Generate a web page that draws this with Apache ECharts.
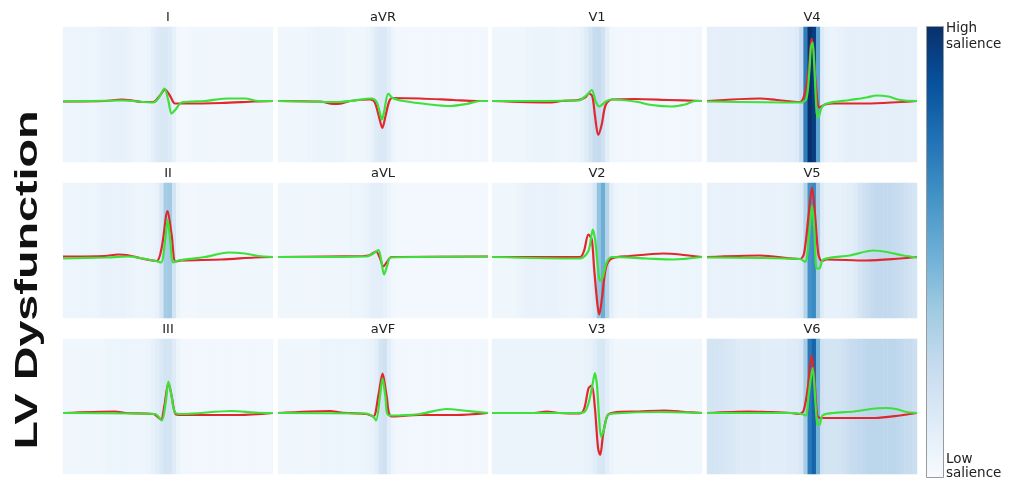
<!DOCTYPE html>
<html><head><meta charset="utf-8">
<script src="https://cdn.jsdelivr.net/npm/echarts@6/dist/echarts.min.js"></script>
<style>html,body{margin:0;padding:0;background:#fff}#c{width:1009px;height:484px}</style>
</head><body><div id="c"></div>
<script>
// ---------- data ----------
const leads = ['I','aVR','V1','V4','II','aVL','V2','V5','III','aVF','V3','V6'];
const figureTitle = 'LV Dysfunction';
const scaleHigh = 'High\nsalience';
const scaleLow = 'Low\nsalience';

// saliency (0-100), 50 time bins across each panel
const sal_I   = [5,5,5,5,5,5,5,5,6,7, 7,8,8,8,8,7,6,5,5,5, 6,9,13,15,15,13,8,3,2,2, 3,4,4,4,4,4,4,4,4,4, 4,4,4,4,4,4,4,4,4,4];
const sal_aVR = [4,4,4,4,4,4,4,5,5,6, 6,6,6,6,5,5,4,4,4,4, 4,5,8,12,14,14,10,5,3,3, 3,3,3,3,3,3,3,3,3,3, 3,3,3,3,3,3,3,3,3,3];
const sal_V1  = [4,4,4,4,4,4,4,4,5,5, 6,6,6,6,6,5,5,5,5,6, 6,8,12,18,24,25,20,10,4,3, 3,3,3,3,3,3,3,3,3,3, 3,3,3,3,3,3,3,3,3,3];
const sal_V4  = [9,9,9,9,9,9,9,9,9,9, 9,9,9,9,9,9,9,10,10,11, 11,13,25,70,100,95,55,12,7,6, 6,7,8,9,9,9,9,9,9,9, 9,9,9,9,9,9,9,9,9,9];
const sal_II  = [5,5,5,5,5,5,5,5,6,7, 7,7,7,7,7,6,6,5,5,5, 5,6,8,16,35,37,18,6,3,3, 3,3,4,4,4,4,4,4,4,4, 4,4,4,4,4,4,4,4,4,4];
const sal_aVL = [4,4,4,4,4,4,4,4,4,4, 4,4,4,4,4,4,4,5,5,5, 6,7,9,10,10,8,5,3,2,2, 2,2,2,2,2,2,2,2,2,2, 2,2,2,2,2,2,2,2,2,2];
const sal_V2  = [4,4,4,4,4,4,5,6,7,7, 7,7,7,7,7,7,6,6,5,5, 5,6,7,9,16,40,50,30,10,5, 4,4,4,4,4,5,5,5,5,5, 5,5,5,5,5,5,5,5,5,5];
const sal_V5  = [7,7,7,7,7,7,7,7,7,7, 7,7,7,7,7,7,7,7,7,8, 8,9,12,30,62,65,35,12,8,8, 8,8,9,10,11,13,17,21,23,25, 26,26,26,26,25,24,23,21,19,17];
const sal_III = [4,4,4,4,4,4,4,4,4,4, 5,5,5,5,5,5,5,5,5,5, 6,8,11,15,18,18,12,6,3,3, 3,3,3,3,3,3,3,3,3,3, 3,3,3,3,3,3,3,3,3,3];
const sal_aVF = [4,4,4,4,4,4,4,4,4,4, 5,5,5,5,5,5,5,5,5,5, 5,6,7,10,18,20,11,5,3,3, 3,3,3,3,3,3,3,3,3,3, 3,3,3,3,3,3,3,3,3,3];
const sal_V3  = [6,6,6,6,6,6,6,6,6,6, 6,6,6,6,6,6,6,6,6,6, 6,6,7,8,11,15,16,11,6,4, 4,4,4,4,4,4,4,4,4,4, 4,4,4,4,4,4,4,4,4,4];
const sal_V6  = [18,18,18,17,16,15,14,13,12,12, 12,12,12,11,11,11,11,11,11,12, 12,13,16,35,72,80,48,20,18,18, 18,19,20,22,24,25,26,27,28,28, 28,28,28,28,28,27,26,25,24,22];

// averaged beats: [time % of window, amplitude]
const red_I = [[0,-0.01],[20,0],[28,0.03],[33,0.01],[37.5,-0.02],[43,-0.02],[46,0.1],[48.6,0.23],[51,0.1],[53.3,-0.05],[56.5,-0.05],[75.5,-0.04],[91.4,-0.01],[100,0]];
const green_I = [[0,-0.01],[28,0.01],[43,-0.03],[45.7,0.07],[48.3,0.25],[50.2,0],[51.7,-0.25],[53.6,-0.17],[56.5,-0.03],[67.6,0],[78.7,0.05],[86.7,0.05],[93,0],[100,0]];
const red_aVR = [[0,0],[20,-0.01],[26.3,-0.06],[30.3,-0.05],[34.3,0],[43.8,0.03],[46,-0.02],[48,-0.3],[49.7,-0.54],[51.2,-0.3],[53,0],[54.5,0.06],[67.6,0.05],[83.5,0.02],[94.6,0],[100,0]];
const green_aVR = [[0,0],[27.9,-0.02],[34.3,0],[44.6,0.05],[47,-0.02],[48.3,-0.2],[49.5,-0.37],[50.6,-0.2],[52.5,0.15],[54.6,0.06],[59.7,0],[72.4,-0.07],[81.9,-0.1],[89.8,-0.06],[96.2,0],[100,0]];
const red_V1 = [[0,0],[28.4,-0.03],[33,0],[41,0.02],[44.3,0.07],[46.2,0.15],[47.8,0.09],[49,-0.28],[50.6,-0.68],[52.2,-0.48],[54.1,-0.08],[57,0.03],[68,0.04],[84,0.02],[100,0]];
const green_V1 = [[0,0],[41,0.01],[45.1,0.12],[47.5,0.22],[49.4,-0.01],[51,-0.11],[52.5,-0.07],[54.6,0],[57,0.03],[68,-0.01],[76,-0.08],[85.5,-0.11],[91.9,-0.07],[96.7,0],[100,0]];
const red_V4 = [[0,0],[25.2,0.05],[33.2,0.02],[44.3,-0.02],[46.7,0.17],[48.6,0.7],[49.8,1.25],[50.6,1.03],[51.9,0.3],[53.5,-0.13],[56.2,-0.07],[60.2,-0.05],[76,-0.05],[92,-0.02],[100,0]];
const green_V4 = [[0,-0.01],[44.3,-0.03],[47.2,0.03],[48.7,0.57],[49.5,1.07],[50.3,1.17],[51.1,0.7],[52.2,-0.23],[53,-0.33],[54.6,-0.13],[57,-0.05],[68,0.02],[76,0.07],[80.8,0.11],[86.3,0.09],[92,0.02],[100,0]];
const red_II = [[0,0.01],[20,0.02],[26.3,0.05],[30.3,0.04],[37.5,-0.03],[44.6,-0.08],[47,0.19],[49.8,0.92],[51.7,0.45],[53.6,-0.09],[56.5,-0.07],[75.5,-0.05],[91.4,-0.01],[100,0]];
const green_II = [[0,-0.03],[20,-0.01],[31,0.01],[44,-0.08],[46.7,-0.11],[48.6,0.32],[49.8,0.75],[51.1,0.32],[52.5,-0.11],[54.9,-0.07],[67.6,0],[78.7,0.09],[86.7,0.07],[93,0.02],[100,0]];
const red_aVL = [[0,0],[40.6,0.02],[43.8,0.04],[46.7,0.11],[48.6,-0.03],[50.2,-0.19],[51.7,-0.11],[54.1,0],[100,0.01]];
const green_aVL = [[0,0],[42.2,0.01],[45.4,0.07],[47.8,0.14],[49,-0.03],[50.5,-0.35],[52.1,-0.16],[53.6,-0.01],[100,0.01]];
const red_V2 = [[0,0],[41.9,0],[43.8,0.12],[45.9,0.45],[47.5,0.35],[48.6,-0.21],[50.2,-0.95],[51.1,-1.15],[52.4,-0.81],[54.3,-0.21],[57,-0.03],[65.7,0.02],[81.6,0.07],[89.5,0.05],[100,0]];
const green_V2 = [[0,0],[41.9,-0.03],[45.9,0.12],[48,0.55],[49.2,0.32],[50.6,-0.28],[51.4,-0.47],[52.7,-0.41],[54.6,-0.11],[57,0],[73.6,-0.03],[86.3,-0.05],[100,0]];
const red_V5 = [[0,0],[25.2,0.03],[44.3,-0.04],[46.2,0.07],[48.3,0.8],[50,1.39],[51.4,0.87],[53,0.07],[54.6,-0.08],[57,-0.05],[76,-0.07],[92,-0.03],[100,0]];
const green_V5 = [[0,-0.01],[44.3,-0.04],[46.7,-0.1],[48.7,0.47],[50,1.03],[51.1,0.53],[52.2,-0.23],[53.5,-0.23],[55.4,-0.05],[68,0.03],[79.2,0.13],[85.5,0.1],[93.5,0.03],[100,-0.01]];
const red_III = [[0,0],[24.8,0.03],[30,0],[43,-0.02],[45.4,-0.09],[46.7,-0.13],[48.3,0.15],[50.2,0.6],[51.7,0.35],[53.6,-0.02],[56.5,-0.04],[83.5,-0.04],[100,0]];
const green_III = [[0,0],[43.8,-0.02],[47,-0.15],[48.9,0.21],[50.2,0.63],[51.4,0.41],[53.3,0.01],[56.5,-0.02],[80.3,0.04],[91.4,0.01],[100,0]];
const red_aVF = [[0,0],[24.8,0.04],[30,0.01],[42.2,-0.02],[45.4,-0.07],[47.8,0.35],[49.8,0.79],[51.7,0.35],[54.1,-0.07],[67.6,-0.04],[85,-0.04],[100,0]];
const green_aVF = [[0,0],[42,-0.01],[45.5,-0.08],[46.7,-0.15],[48.6,0.35],[49.8,0.69],[51.1,0.35],[53,-0.05],[67.6,-0.02],[80.3,0.08],[88.2,0.05],[100,0]];
const red_V3 = [[0,0],[20,0],[26,0.03],[32,0],[42,-0.01],[44,0.1],[46,0.5],[47.5,0.55],[49,0.1],[50.5,-0.7],[51.5,-0.84],[53,-0.4],[55,-0.05],[58,0.01],[70,0.03],[82,0.05],[92,0.02],[100,0]];
const green_V3 = [[0,0],[20,0],[40,0],[44,0.02],[46,0.2],[48,0.6],[49,0.8],[50,0.55],[51,-0.1],[52,-0.48],[53.5,-0.3],[55,-0.05],[58,-0.01],[80,0.02],[100,0]];
const red_V6 = [[0,0],[20,0.03],[28,0.02],[40,0],[44,-0.02],[46,0.05],[48,0.5],[49.8,1.16],[51.3,0.6],[52.5,-0.05],[54,-0.1],[60,-0.1],[80,-0.1],[92,-0.05],[100,0]];
const green_V6 = [[0,0],[40,0],[45,-0.02],[47,-0.05],[48.5,0.4],[50.3,0.9],[51.5,0.3],[52.5,-0.22],[53.5,-0.24],[55,-0.05],[60,0],[70,0.03],[78,0.08],[85,0.1],[90,0.08],[95,0.02],[100,0]];

// ---------- build ----------
const SAL = {I:sal_I,aVR:sal_aVR,V1:sal_V1,V4:sal_V4,II:sal_II,aVL:sal_aVL,V2:sal_V2,V5:sal_V5,III:sal_III,aVF:sal_aVF,V3:sal_V3,V6:sal_V6};
const RED = {I:red_I,aVR:red_aVR,V1:red_V1,V4:red_V4,II:red_II,aVL:red_aVL,V2:red_V2,V5:red_V5,III:red_III,aVF:red_aVF,V3:red_V3,V6:red_V6};
const GRN = {I:green_I,aVR:green_aVR,V1:green_V1,V4:green_V4,II:green_II,aVL:green_aVL,V2:green_V2,V5:green_V5,III:green_III,aVF:green_aVF,V3:green_V3,V6:green_V6};

const blues = ['#f7fbff','#deebf7','#c6dbef','#9ecae1','#6baed6','#4292c6','#2171b5','#08519c','#08306b'];
const colLeft = [63,278,492,707], rowTop = [27,183,339], W = 210, H = 135;
const nBins = sal_I.length;
const binCats = Array.from({length:nBins},(_,i)=>String(i));

const grids=[], xAxes=[], yAxes=[], series=[], heatIdx=[], graphics=[];
leads.forEach((name,k)=>{
  const r = Math.floor(k/4), c = k%4;
  grids.push({left:colLeft[c], top:rowTop[r], width:W, height:H});
  xAxes.push({type:'category', gridIndex:k, data:binCats, show:false, boundaryGap:true});
  xAxes.push({type:'value', gridIndex:k, min:0, max:100, show:false});
  yAxes.push({type:'category', gridIndex:k, data:['s'], show:false});
  yAxes.push({type:'value', gridIndex:k, min:-1.22, max:1.48, show:false});
  heatIdx.push(series.length);
  series.push({type:'heatmap', xAxisIndex:2*k, yAxisIndex:2*k, silent:true,
    data: SAL[name].map((v,i)=>[i,0,v]), itemStyle:{borderWidth:0}});
  series.push({type:'line', xAxisIndex:2*k+1, yAxisIndex:2*k+1, data:RED[name], showSymbol:false,
    smooth:0.3, silent:true, lineStyle:{color:'#e0282c', width:2.2}});
  series.push({type:'line', xAxisIndex:2*k+1, yAxisIndex:2*k+1, data:GRN[name], showSymbol:false,
    smooth:0.3, silent:true, lineStyle:{color:'#3fe03a', width:2.2}});
  graphics.push({type:'text', x:colLeft[c]+W/2, y:rowTop[r]-9, silent:true,
    style:{text:name, fontFamily:'DejaVu Sans', fontSize:13, fill:'#222', align:'center', verticalAlign:'middle', textAlign:'center', textVerticalAlign:'middle'}});
});

// colour bar
graphics.push({type:'rect', x:926.5, y:26.5, silent:true, shape:{width:17, height:451},
  style:{fill:new echarts.graphic.LinearGradient(0,0,0,1, blues.slice().reverse().map((col,i)=>({offset:i/(blues.length-1), color:col}))),
    stroke:'#9a9a9a', lineWidth:1}});
graphics.push({type:'text', x:946, y:21, silent:true,
  style:{text:scaleHigh, fontFamily:'DejaVu Sans', fontSize:13.5, lineHeight:15.5, fill:'#222', align:'left', verticalAlign:'top', textAlign:'left', textVerticalAlign:'top'}});
graphics.push({type:'text', x:946, y:452, silent:true,
  style:{text:scaleLow, fontFamily:'DejaVu Sans', fontSize:13.5, lineHeight:14.5, fill:'#222', align:'left', verticalAlign:'top', textAlign:'left', textVerticalAlign:'top'}});
// row title
graphics.push({type:'text', x:28, y:280, rotation:Math.PI/2, scaleX:1.46, silent:true,
  style:{text:figureTitle, fontFamily:'Liberation Sans', fontSize:32, fontWeight:'bold', fill:'#111', align:'center', verticalAlign:'middle', textAlign:'center', textVerticalAlign:'middle'}});

const chart = echarts.init(document.getElementById('c'), null, {renderer:'canvas'});
chart.setOption({
  animation:false,
  backgroundColor:'#ffffff',
  grid:grids, xAxis:xAxes, yAxis:yAxes,
  visualMap:{type:'continuous', show:false, min:0, max:100, seriesIndex:heatIdx, inRange:{color:blues}},
  series:series,
  graphic:graphics
});
</script></body></html>
